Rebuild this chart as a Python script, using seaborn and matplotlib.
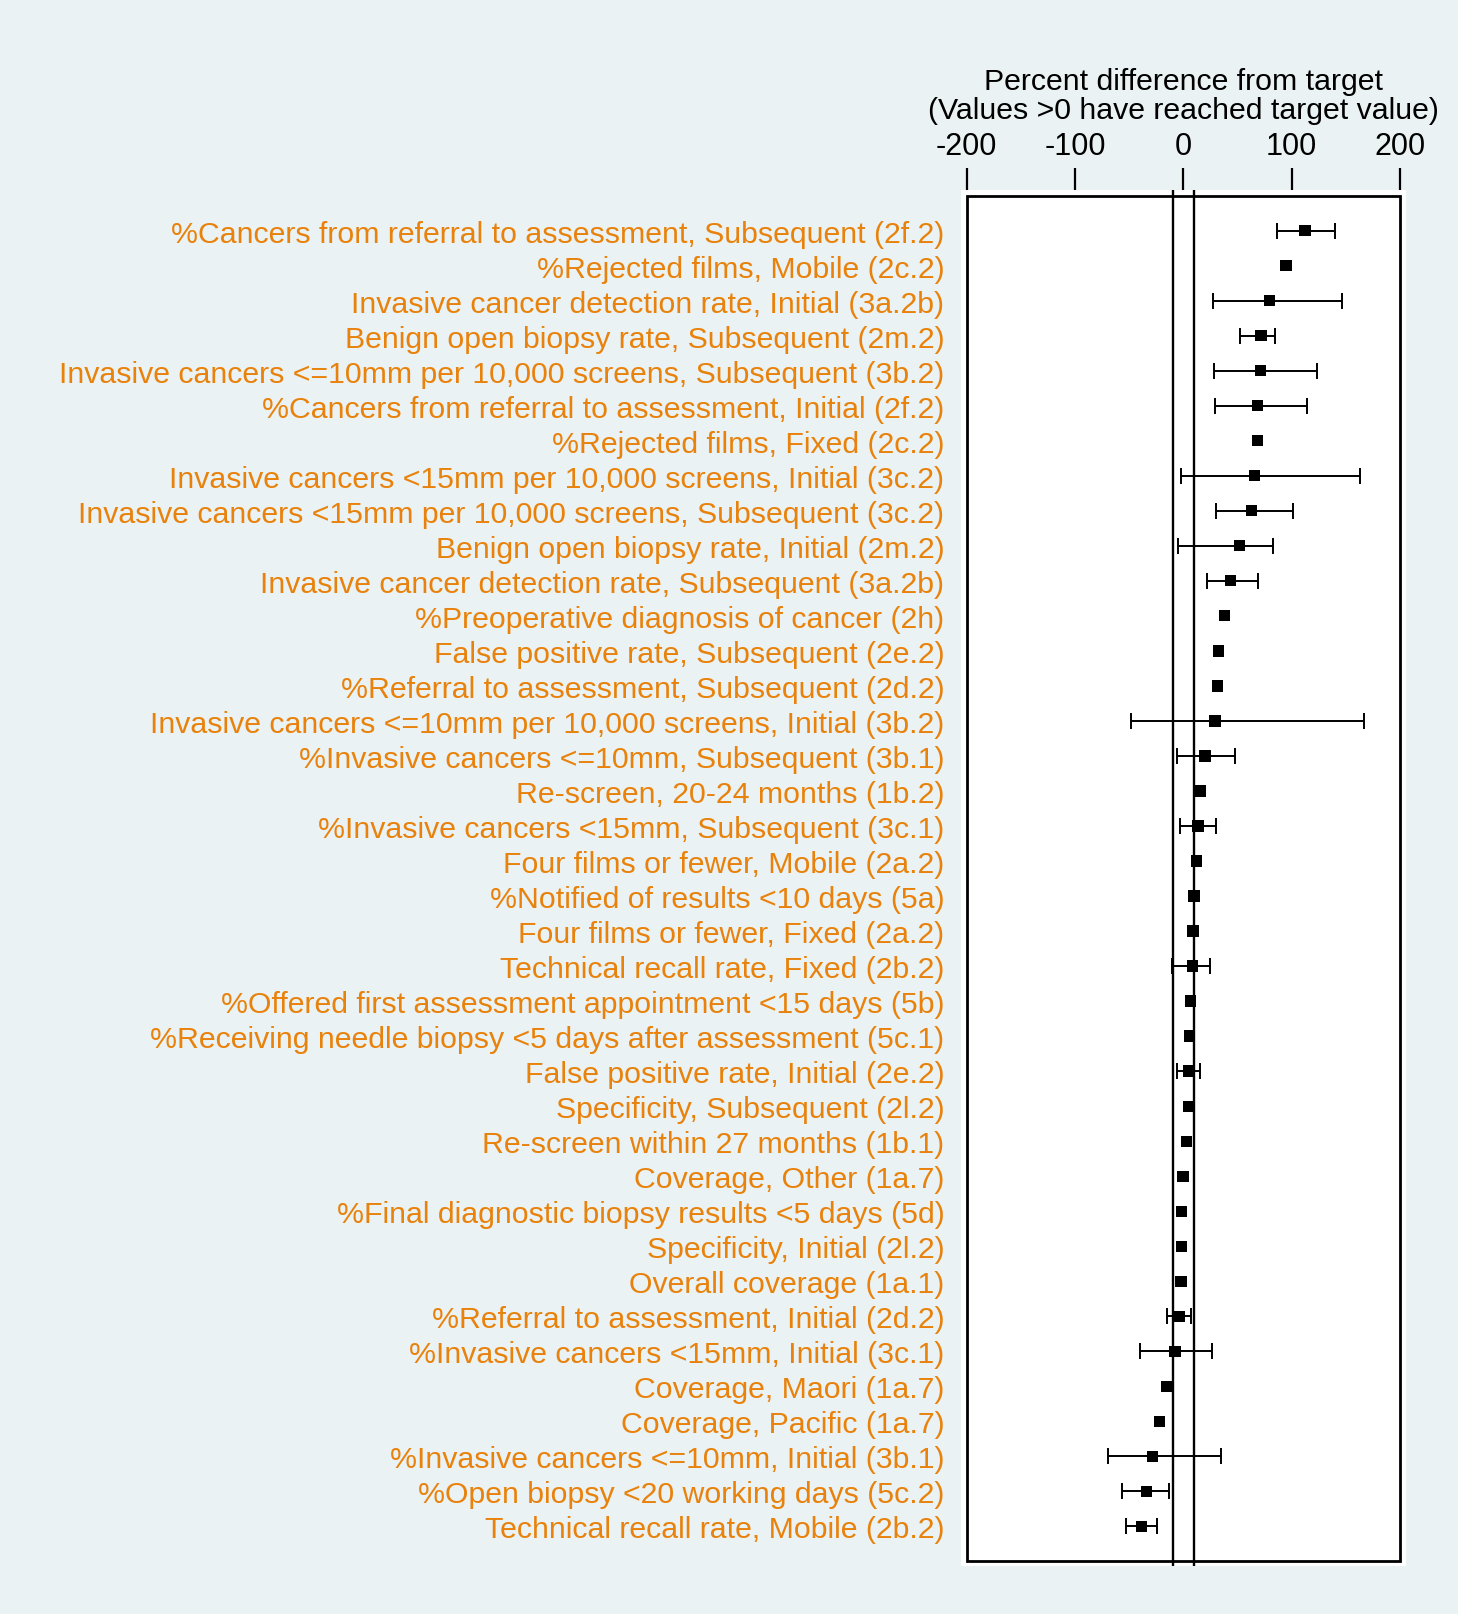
import numpy as np
import pandas as pd
import matplotlib
matplotlib.use('Agg')
import matplotlib.pyplot as plt
import seaborn as sns

# подписи показателей (сверху вниз)
labels = [
    '%Cancers from referral to assessment, Subsequent (2f.2)',
    '%Rejected films, Mobile (2c.2)',
    'Invasive cancer detection rate, Initial (3a.2b)',
    'Benign open biopsy rate, Subsequent (2m.2)',
    'Invasive cancers <=10mm per 10,000 screens, Subsequent (3b.2)',
    '%Cancers from referral to assessment, Initial (2f.2)',
    '%Rejected films, Fixed (2c.2)',
    'Invasive cancers <15mm per 10,000 screens, Initial (3c.2)',
    'Invasive cancers <15mm per 10,000 screens, Subsequent (3c.2)',
    'Benign open biopsy rate, Initial (2m.2)',
    'Invasive cancer detection rate, Subsequent (3a.2b)',
    '%Preoperative diagnosis of cancer (2h)',
    'False positive rate, Subsequent (2e.2)',
    '%Referral to assessment, Subsequent (2d.2)',
    'Invasive cancers <=10mm per 10,000 screens, Initial (3b.2)',
    '%Invasive cancers <=10mm, Subsequent (3b.1)',
    'Re-screen, 20-24 months (1b.2)',
    '%Invasive cancers <15mm, Subsequent (3c.1)',
    'Four films or fewer, Mobile (2a.2)',
    '%Notified of results <10 days (5a)',
    'Four films or fewer, Fixed (2a.2)',
    'Technical recall rate, Fixed (2b.2)',
    '%Offered first assessment appointment <15 days (5b)',
    '%Receiving needle biopsy <5 days after assessment (5c.1)',
    'False positive rate, Initial (2e.2)',
    'Specificity, Subsequent (2l.2)',
    'Re-screen within 27 months (1b.1)',
    'Coverage, Other (1a.7)',
    '%Final diagnostic biopsy results <5 days (5d)',
    'Specificity, Initial (2l.2)',
    'Overall coverage (1a.1)',
    '%Referral to assessment, Initial (2d.2)',
    '%Invasive cancers <15mm, Initial (3c.1)',
    'Coverage, Maori (1a.7)',
    'Coverage, Pacific (1a.7)',
    '%Invasive cancers <=10mm, Initial (3b.1)',
    '%Open biopsy <20 working days (5c.2)',
    'Technical recall rate, Mobile (2b.2)',
]

# оценка и доверительный интервал (nan - без интервала)
estimate = [112.3, 94.8, 79.7, 71.7, 71.1, 68.6, 68.6, 65.8, 62.8, 51.7,
            43.4, 37.8, 32.3, 31.7, 29.2, 20.0, 15.4, 13.5, 12.3, 9.8,
            8.9, 8.3, 6.2, 5.5, 5.2, 4.6, 2.8, -0.3, -1.5, -1.8,
            -2.2, -4.0, -7.7, -15.4, -22.2, -28.6, -34.2, -38.5]
lower = [86.2, np.nan, 27.7, 52.6, 28.6, 29.5, np.nan, -2.2, 30.5, -5.2,
         21.5, np.nan, np.nan, np.nan, -48.0, -5.5, np.nan, -2.8, np.nan, np.nan,
         np.nan, -10.2, np.nan, np.nan, -5.8, np.nan, np.nan, np.nan, np.nan, np.nan,
         np.nan, -15.1, -40.0, np.nan, np.nan, -69.8, -56.6, -53.2]
upper = [140.3, np.nan, 146.2, 84.6, 123.1, 114.2, np.nan, 162.8, 100.9, 82.5,
         68.6, np.nan, np.nan, np.nan, 167.1, 47.4, np.nan, 29.8, np.nan, np.nan,
         np.nan, 24.6, np.nan, np.nan, 15.4, np.nan, np.nan, np.nan, np.nan, np.nan,
         np.nan, 6.8, 26.2, np.nan, np.nan, 34.5, -13.2, -24.3]

ticks = [-200, -100, 0, 100, 200]

data = pd.DataFrame({'label': labels, 'est': estimate, 'lo': lower, 'hi': upper})
data['pos'] = np.arange(1, len(data) + 1)

bg = '#EAF2F3'
orange = '#E8820C'
plt.rcParams['font.family'] = ['Liberation Sans', 'DejaVu Sans']

fig = plt.figure(figsize=(14.58, 16.15), dpi=100, facecolor=bg)
ax = fig.add_axes([961 / 1458, 1 - 1567 / 1615, 445 / 1458, 1376 / 1615])
ax.set_facecolor('white')

# рамка и линии +-10
ax.add_patch(plt.Rectangle((-200, 0), 400, 39, fill=False, lw=2.0, ec='black', zorder=1))
for v in [-10, 10]:
    ax.axvline(v, color='black', lw=1.7, zorder=1)

# доверительные интервалы
ci = data.dropna(subset=['lo'])
ax.errorbar(ci['est'], ci['pos'],
            xerr=[ci['est'] - ci['lo'], ci['hi'] - ci['est']],
            fmt='none', ecolor='black', elinewidth=1.4, capsize=6, capthick=1.4, zorder=2)

sns.scatterplot(data=data, x='est', y='pos', marker='s', s=65, color='black',
                edgecolor='none', ax=ax, zorder=3, legend=False)

ax.set_xlim(-205.3, 205.5)
ax.set_ylim(39.134, -0.163)
for s in ax.spines.values():
    s.set_visible(False)

ax.xaxis.tick_top()
ax.xaxis.set_label_position('top')
ax.set_xticks(ticks)
ax.set_xticklabels([str(t) for t in ticks])
ax.tick_params(axis='x', direction='out', length=16, width=1.6, pad=5, labelsize=22)
ax.set_xlabel('Percent difference from target\n(Values >0 have reached target value)',
              fontsize=21.8, labelpad=9, linespacing=1.06)

ax.set_yticks(data['pos'])
ax.set_yticklabels(data['label'], color=orange, fontsize=21.75)
ax.tick_params(axis='y', length=0, pad=12)
ax.set_ylabel('')

plt.savefig('out.png', dpi=100, facecolor=bg)
